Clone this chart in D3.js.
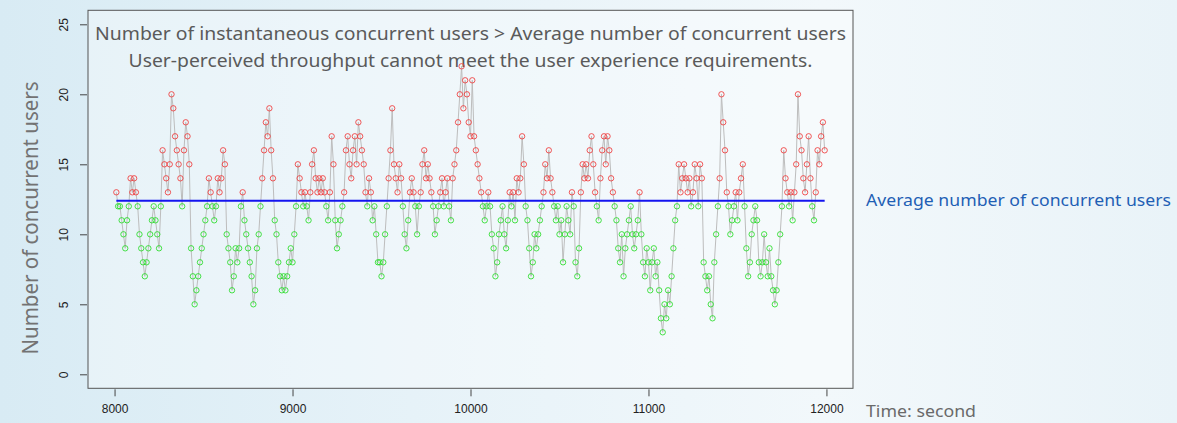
<!DOCTYPE html>
<html>
<head>
<meta charset="utf-8">
<script src="https://cdn.jsdelivr.net/npm/d3@7"></script>
<style>
  body {
    margin: 0;
    width: 1177px;
    height: 423px;
    overflow: hidden;
    background: linear-gradient(to right, #d8ebf4 0%, #e6f2f8 35%, #f2f8fb 70%, #e9f3f8 100%);
  }
  svg { display: block; }
</style>
</head>
<body>
<svg id="chart" width="1177" height="423"></svg>
<script>
// concurrent users, one sample every 10 s from t = 8010 s
const startTime = 8010;
const stepSeconds = 10;
const users = [
  13,12,12,11,10,9,11,12,14,13,
  14,13,12,10,9,8,7,8,9,10,
  11,12,11,10,9,12,16,15,14,13,
  15,20,19,17,16,15,14,12,16,18,
  17,15,9,7,5,6,7,8,9,10,
  11,12,14,13,12,11,12,14,13,14,
  16,15,10,9,8,6,7,9,8,9,
  12,13,11,10,9,8,7,5,6,9,
  10,12,14,16,18,17,19,16,14,11,
  10,8,7,6,7,6,7,8,9,8,
  10,12,15,14,13,12,13,12,11,13,
  15,16,14,13,14,13,14,13,12,11,
  13,17,15,11,9,10,11,12,13,16,
  17,15,14,16,17,15,18,17,16,15,
  13,12,14,13,11,12,10,8,8,7,
  8,10,12,14,16,19,15,14,13,15,
  14,12,10,9,11,13,14,13,12,10,
  12,13,15,16,14,15,14,13,12,10,
  11,12,13,14,12,13,14,12,11,14,
  15,16,18,20,22,19,21,20,18,17,
  21,17,16,15,14,13,12,11,12,13,
  12,10,9,7,8,10,11,12,10,9,
  11,13,12,13,11,14,13,14,17,15,
  12,11,9,7,8,10,9,10,11,12,
  13,15,14,16,14,13,12,11,12,10,
  11,8,10,12,11,10,13,12,8,7,
  9,13,15,14,15,14,16,17,15,13,
  12,11,14,16,17,15,17,16,14,13,
  12,11,9,8,10,7,9,10,11,12,
  10,9,10,11,13,10,8,7,9,8,
  6,8,9,7,8,6,4,3,5,4,
  6,5,7,9,11,12,15,13,14,15,
  14,13,14,12,13,15,14,12,15,14,
  8,7,6,7,5,4,8,10,12,14,
  20,18,16,13,12,10,11,12,13,11,
  13,14,15,12,9,7,8,10,11,12,
  11,8,7,8,10,8,7,9,7,6,
  5,6,8,10,12,16,14,13,12,13,
  11,13,15,20,17,16,14,13,15,17,
  14,12,11,13,16,15,17,18,16
];
const avgUsers = 12.4;
const xTicks = [8000, 9000, 10000, 11000, 12000];
const yTicks = [0, 5, 10, 15, 20, 25];
const yLimits = [0, 25];

const titleLines = [
  "Number of instantaneous concurrent users > Average number of concurrent users",
  "User-perceived throughput cannot meet the user experience requirements."
];

const times = users.map((d, i) => startTime + i * stepSeconds);
const points = users.map((v, i) => ({t: times[i], v: v}));

// plot box, like R's default 4% padding
const box = {left: 88, right: 853, top: 10.3, bottom: 388.3};
const svg = d3.select("#chart");

const tExt = d3.extent(times);
const tPad = (tExt[1] - tExt[0]) * 0.04;
const yPad = (yLimits[1] - yLimits[0]) * 0.04;

const x = d3.scaleLinear()
    .domain([tExt[0] - tPad, tExt[1] + tPad])
    .range([box.left, box.right]);
const y = d3.scaleLinear()
    .domain([yLimits[0] - yPad, yLimits[1] + yPad])
    .range([box.bottom, box.top]);

svg.append("rect")
    .attr("x", box.left).attr("y", box.top)
    .attr("width", box.right - box.left).attr("height", box.bottom - box.top)
    .attr("fill", "rgba(255,255,255,0.35)");

// title text sits inside the plot
svg.selectAll(".title")
    .data(titleLines)
    .join("text")
    .attr("x", (box.left + box.right) / 2)
    .attr("y", (d, i) => 40 + i * 26.5)
    .attr("text-anchor", "middle")
    .attr("font-family", "Noto Sans, sans-serif")
    .attr("font-size", 18.5)
    .attr("fill", "#5a5a5a")
    .attr("textLength", (d, i) => i === 0 ? 751 : 684)
    .attr("lengthAdjust", "spacingAndGlyphs")
    .text(d => d);

// gray connecting line
svg.append("path")
    .datum(points)
    .attr("fill", "none")
    .attr("stroke", "#bdbdbd")
    .attr("stroke-width", 1)
    .attr("d", d3.line().x(d => x(d.t)).y(d => y(d.v)));

// average line
svg.append("line")
    .attr("x1", x(tExt[0])).attr("x2", x(tExt[1]))
    .attr("y1", y(avgUsers)).attr("y2", y(avgUsers))
    .attr("stroke", "#1414f0")
    .attr("stroke-width", 2);

svg.selectAll(".pt")
    .data(points)
    .join("circle")
    .attr("cx", d => x(d.t))
    .attr("cy", d => y(d.v))
    .attr("r", 2.7)
    .attr("fill", "none")
    .attr("stroke-width", 1)
    .attr("stroke-opacity", 0.85)
    .attr("stroke", d => d.v > avgUsers ? "#ef3b3b" : "#28dc28");

svg.append("rect")
    .attr("x", box.left).attr("y", box.top)
    .attr("width", box.right - box.left).attr("height", box.bottom - box.top)
    .attr("fill", "none")
    .attr("stroke", "#555")
    .attr("stroke-width", 1);

// axes
const xAxis = svg.append("g")
    .attr("transform", `translate(0,${box.bottom + 1})`)
    .call(d3.axisBottom(x).tickValues(xTicks).tickSize(7).tickPadding(8).tickFormat(d3.format("d")));
const yAxis = svg.append("g")
    .attr("transform", `translate(${box.left - 1},0)`)
    .call(d3.axisLeft(y).tickValues(yTicks).tickSize(7));

[xAxis, yAxis].forEach(g => {
    g.select(".domain").remove();
    g.selectAll("line").attr("stroke", "#444");
    g.selectAll("text")
        .attr("font-family", "Liberation Sans, Arial, sans-serif")
        .attr("font-size", 12)
        .attr("fill", "#222");
});

yAxis.selectAll("text")
    .attr("transform", "rotate(-90)")
    .attr("text-anchor", "middle")
    .attr("x", 0)
    .attr("y", -19)
    .attr("dy", 0);

// labels outside the box
svg.append("text")
    .attr("transform", "translate(38,218) rotate(-90)")
    .attr("text-anchor", "middle")
    .attr("font-family", "Noto Sans, sans-serif")
    .attr("font-size", 22)
    .attr("fill", "#737373")
    .attr("textLength", 273)
    .attr("lengthAdjust", "spacingAndGlyphs")
    .text("Number of concurrent users");

svg.append("text")
    .attr("x", 866).attr("y", 206)
    .attr("font-family", "Noto Sans, sans-serif")
    .attr("font-size", 16)
    .attr("fill", "#1f5fb5")
    .attr("textLength", 305)
    .attr("lengthAdjust", "spacingAndGlyphs")
    .text("Average number of concurrent users");

svg.append("text")
    .attr("x", 866).attr("y", 417)
    .attr("font-family", "Noto Sans, sans-serif")
    .attr("font-size", 16)
    .attr("fill", "#6a6a6a")
    .attr("textLength", 110)
    .attr("lengthAdjust", "spacingAndGlyphs")
    .text("Time: second");
</script>
</body>
</html>
